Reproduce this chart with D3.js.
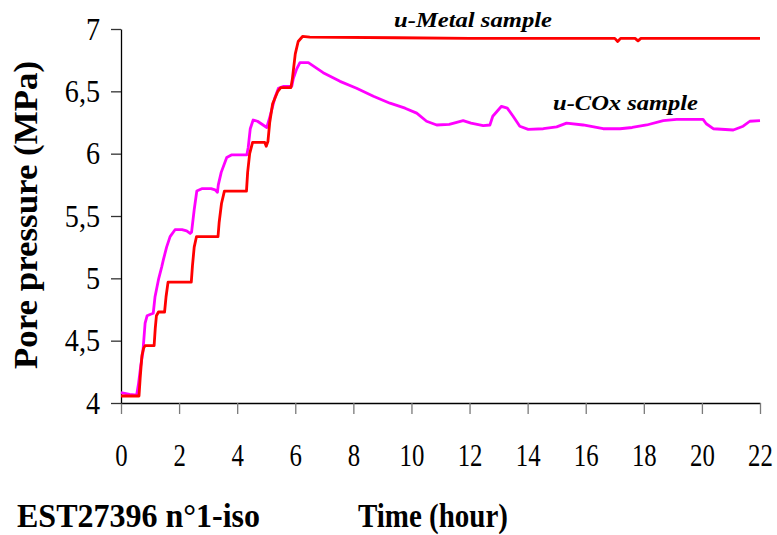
<!DOCTYPE html>
<html>
<head>
<meta charset="utf-8">
<script src="https://cdn.jsdelivr.net/npm/d3@7"></script>
</head>
<body style="margin:0;background:#fff">
<svg id="chart" width="777" height="535" style="display:block"></svg>
<script>
// Pore pressure vs. time for the two samples of test EST27396 n°1-iso
// [time (hour), pore pressure (MPa)]
const metalSeries = [
  [0, 4.056], [0.62, 4.056], [0.66, 4.2], [0.72, 4.38], [0.78, 4.44], [0.83, 4.46],
  [1.14, 4.46], [1.18, 4.6], [1.22, 4.7], [1.29, 4.73], [1.5, 4.73], [1.55, 4.85],
  [1.62, 4.97], [2.42, 4.97], [2.46, 5.1], [2.52, 5.25], [2.6, 5.335], [3.34, 5.335],
  [3.38, 5.45], [3.46, 5.6], [3.56, 5.70], [4.32, 5.70], [4.36, 5.85], [4.43, 6.0],
  [4.53, 6.09], [4.95, 6.09], [5.0, 6.06], [5.06, 6.1], [5.12, 6.25], [5.22, 6.4],
  [5.4, 6.5], [5.5, 6.53], [5.85, 6.53], [5.9, 6.6], [6.0, 6.8], [6.1, 6.9],
  [6.25, 6.94], [6.5, 6.935], [9.5, 6.93], [12, 6.925], [17.0, 6.925], [17.1, 6.90],
  [17.2, 6.925], [17.7, 6.925], [17.8, 6.905], [17.9, 6.925], [22, 6.925]
];
const coxSeries = [
  [0, 4.083], [0.3, 4.07], [0.54, 4.064], [0.6, 4.15], [0.68, 4.3], [0.75, 4.40],
  [0.83, 4.64], [0.9, 4.70], [1.0, 4.71], [1.11, 4.72], [1.17, 4.85], [1.3, 5.0],
  [1.4, 5.09], [1.46, 5.15], [1.57, 5.25], [1.69, 5.335], [1.86, 5.39], [2.1, 5.39],
  [2.26, 5.38], [2.38, 5.36], [2.43, 5.37], [2.52, 5.55], [2.61, 5.70], [2.8, 5.72],
  [3.1, 5.72], [3.24, 5.71], [3.32, 5.69], [3.35, 5.75], [3.45, 5.85], [3.64, 5.97],
  [3.8, 5.99], [4.33, 5.99], [4.38, 6.05], [4.45, 6.2], [4.55, 6.27], [4.7, 6.26],
  [5.02, 6.21], [5.13, 6.3], [5.3, 6.45], [5.42, 6.525], [5.6, 6.54], [5.88, 6.54],
  [5.93, 6.6], [6.05, 6.68], [6.16, 6.73], [6.45, 6.73], [6.96, 6.65], [7.54, 6.58],
  [8.11, 6.525], [8.69, 6.46], [9.26, 6.405], [9.78, 6.365], [10.18, 6.325], [10.52, 6.26],
  [10.87, 6.23], [11.3, 6.235], [11.78, 6.265], [12.05, 6.245], [12.47, 6.225], [12.70, 6.23],
  [12.8, 6.30], [13.1, 6.38], [13.3, 6.365], [13.5, 6.30], [13.73, 6.22], [14.02, 6.195],
  [14.54, 6.20], [15.0, 6.215], [15.34, 6.245], [15.91, 6.23], [16.6, 6.20], [17.18, 6.20],
  [17.6, 6.21], [18.10, 6.23], [18.67, 6.265], [19.13, 6.275], [20.04, 6.275], [20.15, 6.24],
  [20.39, 6.20], [21.08, 6.19], [21.42, 6.22], [21.65, 6.26], [22, 6.265]
];
const timeTicks = [0, 2, 4, 6, 8, 10, 12, 14, 16, 18, 20, 22];
const pressureTicks = [4, 4.5, 5, 5.5, 6, 6.5, 7];
const seriesNames = ["u-Metal sample", "u-COx sample"];
const seriesColors = ["#ff0000", "#ff00ff"];

const FONT = "Liberation Serif";
const svg = d3.select("#chart");

const x = d3.scaleLinear().domain([0, 22]).range([121, 760]);
const y = d3.scaleLinear().domain([4, 7]).range([403, 29]);

// scale a text's width relative to its natural length
function squeeze(sel, factor) {
  sel.each(function () {
    const w = this.getComputedTextLength();
    d3.select(this).attr("textLength", w * factor).attr("lengthAdjust", "spacingAndGlyphs");
  });
}
// set a text's drawn width
function fitTo(sel, width) {
  sel.attr("textLength", width).attr("lengthAdjust", "spacingAndGlyphs");
}

// x axis
const xAxis = svg.append("g")
  .attr("transform", `translate(0,${y(4)})`)
  .call(d3.axisBottom(x).tickValues(timeTicks).tickSize(11).tickSizeOuter(0).tickPadding(30)
    .tickFormat(d3.format("d")));
xAxis.attr("font-family", FONT).attr("font-size", 31);
xAxis.select(".domain").attr("stroke", "#000").attr("stroke-width", 1.3);
xAxis.selectAll(".tick line").attr("stroke", "#7a7a7a").attr("stroke-width", 1.3);
xAxis.selectAll(".tick text")
  .attr("font-family", FONT).attr("font-size", 31).attr("fill", "#000")
  .call(squeeze, 0.8);

// y axis
const yAxis = svg.append("g")
  .attr("transform", `translate(${x(0)},0)`)
  .call(d3.axisLeft(y).tickValues(pressureTicks).tickSize(10).tickSizeOuter(0).tickPadding(11)
    .tickFormat(d => String(d).replace(".", ",")));
yAxis.attr("font-family", FONT).attr("font-size", 32);
yAxis.select(".domain").attr("stroke", "#000").attr("stroke-width", 1.3);
yAxis.selectAll(".tick line").attr("stroke", "#333").attr("stroke-width", 1.3);
yAxis.selectAll(".tick text")
  .attr("font-family", FONT).attr("font-size", 32).attr("fill", "#000")
  .call(squeeze, 0.88);

// series lines
const line = d3.line().x(d => x(d[0])).y(d => y(d[1]));
[[coxSeries, seriesColors[1]], [metalSeries, seriesColors[0]]].forEach(([s, c]) => {
  svg.append("path")
    .datum(s)
    .attr("fill", "none")
    .attr("stroke", c)
    .attr("stroke-width", 2.8)
    .attr("stroke-linejoin", "round")
    .attr("d", line);
});

// series labels
svg.append("text")
  .attr("x", 394).attr("y", 26.5)
  .attr("font-family", FONT).attr("font-size", 22).attr("font-weight", "bold").attr("font-style", "italic")
  .text(seriesNames[0]).call(fitTo, 158);
svg.append("text")
  .attr("x", 553).attr("y", 110)
  .attr("font-family", FONT).attr("font-size", 22).attr("font-weight", "bold").attr("font-style", "italic")
  .text(seriesNames[1]).call(fitTo, 145);

// axis titles
svg.append("text")
  .attr("transform", "translate(37,215) rotate(-90)")
  .attr("text-anchor", "middle")
  .attr("font-family", FONT).attr("font-size", 34).attr("font-weight", "bold")
  .text("Pore pressure (MPa)").call(fitTo, 308);
svg.append("text")
  .attr("x", 358).attr("y", 527)
  .attr("font-family", FONT).attr("font-size", 33).attr("font-weight", "bold")
  .text("Time (hour)").call(fitTo, 150);
svg.append("text")
  .attr("x", 17).attr("y", 527)
  .attr("font-family", FONT).attr("font-size", 33).attr("font-weight", "bold")
  .text("EST27396 n°1-iso").call(fitTo, 243);
</script>
</body>
</html>
